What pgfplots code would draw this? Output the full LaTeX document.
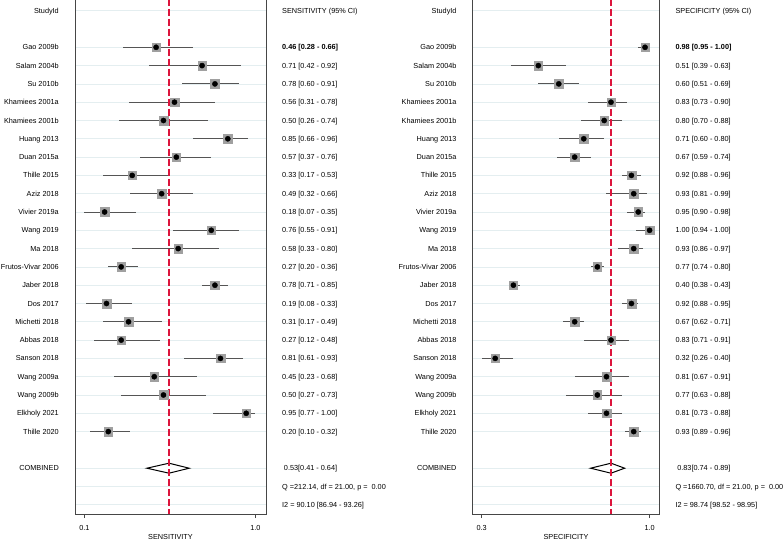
\documentclass[border=0pt]{standalone}
\usepackage{pgfplots}
\usepackage{pgfplotstable}
\pgfplotsset{compat=1.18}
\usepackage{fontspec}
\setmainfont{Liberation Sans}
\definecolor{framec}{RGB}{70,70,70}
\definecolor{gridc}{RGB}{228,238,240}
\definecolor{redl}{RGB}{220,20,60}
\definecolor{sqgray}{RGB}{160,160,160}
\definecolor{cigray}{RGB}{85,85,85}

\pgfplotstableread{
row est lo hi
2 0.46 0.28 0.66
3 0.71 0.42 0.92
4 0.78 0.60 0.91
5 0.56 0.31 0.78
6 0.50 0.26 0.74
7 0.85 0.66 0.96
8 0.57 0.37 0.76
9 0.33 0.17 0.53
10 0.49 0.32 0.66
11 0.18 0.07 0.35
12 0.76 0.55 0.91
13 0.58 0.33 0.80
14 0.27 0.20 0.36
15 0.78 0.71 0.85
16 0.19 0.08 0.33
17 0.31 0.17 0.49
18 0.27 0.12 0.48
19 0.81 0.61 0.93
20 0.45 0.23 0.68
21 0.50 0.27 0.73
22 0.95 0.77 1.00
23 0.20 0.10 0.32
}\sens

\pgfplotstableread{
row est lo hi
2 0.98 0.95 1.00
3 0.51 0.39 0.63
4 0.60 0.51 0.69
5 0.83 0.73 0.90
6 0.80 0.70 0.88
7 0.71 0.60 0.80
8 0.67 0.59 0.74
9 0.92 0.88 0.96
10 0.93 0.81 0.99
11 0.95 0.90 0.98
12 1.00 0.94 1.00
13 0.93 0.86 0.97
14 0.77 0.74 0.80
15 0.40 0.38 0.43
16 0.92 0.88 0.95
17 0.67 0.62 0.71
18 0.83 0.71 0.91
19 0.32 0.26 0.40
20 0.81 0.67 0.91
21 0.77 0.63 0.88
22 0.81 0.73 0.88
23 0.93 0.89 0.96
}\spec

\pgfplotstableread{
x y
0.53 -0.639
0.53 27.503
}\sensref
\pgfplotstableread{
x y
0.83 -0.639
0.83 27.503
}\specref

\newcommand\nm[2]{\node[anchor=base east,inner sep=0pt,yshift=-2.6pt] at (axis cs:\nmx,#1) {#2};}
\newcommand\vl[2]{\node[anchor=base west,inner sep=0pt,yshift=-2.6pt] at (axis cs:\vlx,#1) {#2};}
\newcommand\names{%
\nm{0}{StudyId}
\nm{2}{Gao 2009b}
\nm{3}{Salam 2004b}
\nm{4}{Su 2010b}
\nm{5}{Khamiees 2001a}
\nm{6}{Khamiees 2001b}
\nm{7}{Huang 2013}
\nm{8}{Duan 2015a}
\nm{9}{Thille 2015}
\nm{10}{Aziz 2018}
\nm{11}{Vivier 2019a}
\nm{12}{Wang 2019}
\nm{13}{Ma 2018}
\nm{14}{Frutos-Vivar 2006}
\nm{15}{Jaber 2018}
\nm{16}{Dos 2017}
\nm{17}{Michetti 2018}
\nm{18}{Abbas 2018}
\nm{19}{Sanson 2018}
\nm{20}{Wang 2009a}
\nm{21}{Wang 2009b}
\nm{22}{Elkholy 2021}
\nm{23}{Thille 2020}
\nm{25}{COMBINED}}

\pgfplotsset{
  forest/.style={
    scale only axis,
    anchor=south west,
    width=#1,
    height=515pt,
    ymin=-0.639, ymax=27.503,
    y dir=reverse,
    clip mode=individual,
    axis line style={draw=framec, line width=1pt},
    ytick={0,2,3,4,5,6,7,8,9,10,11,12,13,14,15,16,17,18,19,20,21,22,23,25,26,27},
    yticklabels=\empty,
    ytick style={draw=none},
    ymajorgrids=true,
    major grid style={draw=gridc, line width=0.7pt},
    tick align=outside,
    major tick length=4pt,
    xtick style={draw=framec, line width=0.8pt},
    xticklabel style={anchor=base, yshift=-12.9pt},
    tick label style={font=\fontsize{7.3}{8.5}\selectfont},
    every tick/.append style={draw=framec},
  },
  cibars/.style={only marks, mark=none,
    error bars/.cd, x dir=both, x explicit, error mark=none,
    error bar style={draw=cigray, line width=0.85pt}},
  sq/.style={only marks, mark=square*, mark size=4.3pt, mark options={fill=sqgray, draw=sqgray}},
  dot/.style={only marks, mark=*, mark size=2.6pt, mark options={fill=black, draw=black}},
  refl/.style={draw=redl, solid, line width=2pt, dash pattern=on 7pt off 3pt, mark=none},
}

\begin{document}
\begin{tikzpicture}[font=\fontsize{7.3}{8.5}\selectfont]
% ---------------- SENSITIVITY ----------------
\def\nmx{-0.0681}\def\vlx{1.1445}
\begin{axis}[forest=191pt, at={(75pt,26pt)},
  xmin=0.01888, xmax=1.05764,
  xtick={0.07,1.0}, xticklabels={0.1,1.0}]
\addplot[draw=black, fill=white, line width=1pt] coordinates {(0.41,25) (0.53,24.727) (0.64,25) (0.53,25.273)} -- cycle;
\addplot[cibars] table[x=est, y=row,
  x error plus expr=\thisrow{hi}-\thisrow{est},
  x error minus expr=\thisrow{est}-\thisrow{lo}] {\sens};
\addplot[refl] table[x=x,y=y] {\sensref};
\addplot[sq] table[x=est, y=row] {\sens};
\addplot[dot] table[x=est, y=row] {\sens};
\names
\vl{0}{SENSITIVITY (95\% CI)}
\vl{2}{\textbf{0.46 [0.28 - 0.66]}}
\vl{3}{0.71 [0.42 - 0.92]}
\vl{4}{0.78 [0.60 - 0.91]}
\vl{5}{0.56 [0.31 - 0.78]}
\vl{6}{0.50 [0.26 - 0.74]}
\vl{7}{0.85 [0.66 - 0.96]}
\vl{8}{0.57 [0.37 - 0.76]}
\vl{9}{0.33 [0.17 - 0.53]}
\vl{10}{0.49 [0.32 - 0.66]}
\vl{11}{0.18 [0.07 - 0.35]}
\vl{12}{0.76 [0.55 - 0.91]}
\vl{13}{0.58 [0.33 - 0.80]}
\vl{14}{0.27 [0.20 - 0.36]}
\vl{15}{0.78 [0.71 - 0.85]}
\vl{16}{0.19 [0.08 - 0.33]}
\vl{17}{0.31 [0.17 - 0.49]}
\vl{18}{0.27 [0.12 - 0.48]}
\vl{19}{0.81 [0.61 - 0.93]}
\vl{20}{0.45 [0.23 - 0.68]}
\vl{21}{0.50 [0.27 - 0.73]}
\vl{22}{0.95 [0.77 - 1.00]}
\vl{23}{0.20 [0.10 - 0.32]}
\vl{25}{\hspace{1.8pt}0.53[0.41 - 0.64]}
\vl{26}{Q =212.14, df = 21.00, p = \ 0.00}
\vl{27}{I2 = 90.10 [86.94 - 93.26]}
\node[anchor=base, inner sep=0pt] at (axis cs:0.538,28.888) {SENSITIVITY};
\end{axis}
% ---------------- SPECIFICITY ----------------
\def\nmx{0.15031}\def\vlx{1.11335}
\begin{axis}[forest=186.6pt, at={(472.7pt,26pt)},
  xmin=0.2208, xmax=1.04274,
  xtick={0.26,1.0}, xticklabels={0.3,1.0}]
\addplot[draw=black, fill=white, line width=1pt] coordinates {(0.74,25) (0.83,24.727) (0.89,25) (0.83,25.273)} -- cycle;
\addplot[cibars] table[x=est, y=row,
  x error plus expr=\thisrow{hi}-\thisrow{est},
  x error minus expr=\thisrow{est}-\thisrow{lo}] {\spec};
\addplot[refl] table[x=x,y=y] {\specref};
\addplot[sq] table[x=est, y=row] {\spec};
\addplot[dot] table[x=est, y=row] {\spec};
\names
\vl{0}{SPECIFICITY (95\% CI)}
\vl{2}{\textbf{0.98 [0.95 - 1.00]}}
\vl{3}{0.51 [0.39 - 0.63]}
\vl{4}{0.60 [0.51 - 0.69]}
\vl{5}{0.83 [0.73 - 0.90]}
\vl{6}{0.80 [0.70 - 0.88]}
\vl{7}{0.71 [0.60 - 0.80]}
\vl{8}{0.67 [0.59 - 0.74]}
\vl{9}{0.92 [0.88 - 0.96]}
\vl{10}{0.93 [0.81 - 0.99]}
\vl{11}{0.95 [0.90 - 0.98]}
\vl{12}{1.00 [0.94 - 1.00]}
\vl{13}{0.93 [0.86 - 0.97]}
\vl{14}{0.77 [0.74 - 0.80]}
\vl{15}{0.40 [0.38 - 0.43]}
\vl{16}{0.92 [0.88 - 0.95]}
\vl{17}{0.67 [0.62 - 0.71]}
\vl{18}{0.83 [0.71 - 0.91]}
\vl{19}{0.32 [0.26 - 0.40]}
\vl{20}{0.81 [0.67 - 0.91]}
\vl{21}{0.77 [0.63 - 0.88]}
\vl{22}{0.81 [0.73 - 0.88]}
\vl{23}{0.93 [0.89 - 0.96]}
\vl{25}{\hspace{1.8pt}0.83[0.74 - 0.89]}
\vl{26}{Q =1660.70, df = 21.00, p = \ 0.00}
\vl{27}{I2 = 98.74 [98.52 - 98.95]}
\node[anchor=base, inner sep=0pt] at (axis cs:0.632,28.888) {SPECIFICITY};
\end{axis}
\pgfresetboundingbox
\useasboundingbox (0,0) rectangle (784pt,540pt);
\end{tikzpicture}
\end{document}
